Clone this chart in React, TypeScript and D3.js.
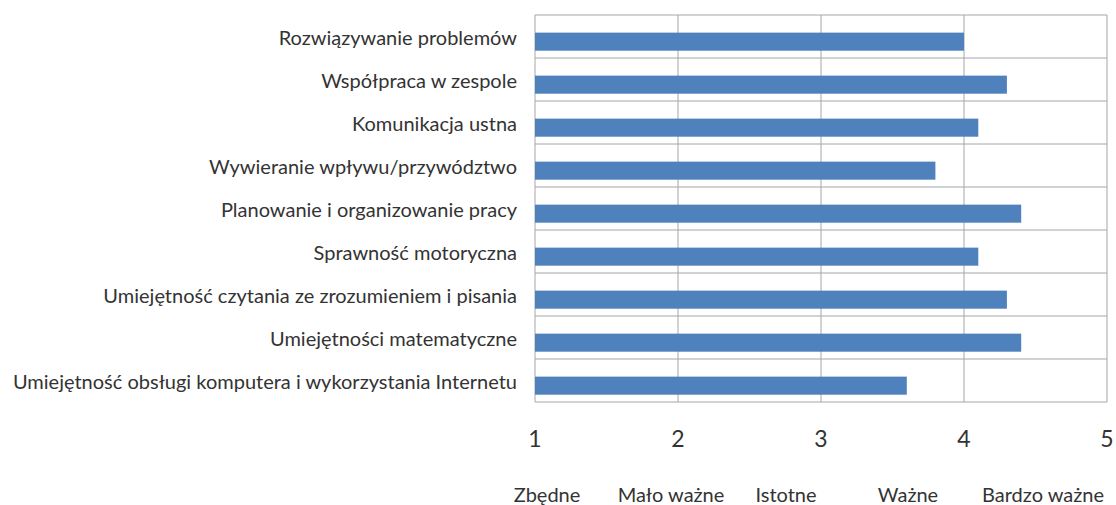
import React from "react";
import * as d3 from "d3";

const categories = [
  "Rozwiązywanie problemów",
  "Współpraca w zespole",
  "Komunikacja ustna",
  "Wywieranie wpływu/przywództwo",
  "Planowanie i organizowanie pracy",
  "Sprawność motoryczna",
  "Umiejętność czytania ze zrozumieniem i pisania",
  "Umiejętności matematyczne",
  "Umiejętność obsługi komputera i wykorzystania Internetu",
];
const values = [4.0, 4.3, 4.1, 3.8, 4.4, 4.1, 4.3, 4.4, 3.6];
const tickValues = [1, 2, 3, 4, 5];
const scaleLabels = ["Zbędne", "Mało ważne", "Istotne", "Ważne", "Bardzo ważne"];

const W = 1116;
const H = 505;
const plot = { left: 535, right: 1107, top: 15, bottom: 402 };
const scaleLabelX = [547, 671, 786, 908, 1043];
const FONT = "Lato, 'Liberation Sans', sans-serif";

export default function App() {
  const x = d3.scaleLinear().domain([1, 5]).range([plot.left, plot.right]);
  const y = d3.scaleBand<string>().domain(categories).range([plot.top, plot.bottom]);
  const bw = y.bandwidth();
  const bands = d3.range(categories.length + 1).map((i) => plot.top + i * bw);

  return (
    <svg width={W} height={H} style={{ position: "absolute", left: 0, top: 0, background: "#fff" }}>
      {bands.map((b, i) => (
        <line key={"h" + i} x1={plot.left} x2={plot.right} y1={b} y2={b} stroke="#a6a6a6" strokeWidth={1} />
      ))}
      {tickValues.map((t) => (
        <line key={"v" + t} x1={x(t)} x2={x(t)} y1={plot.top} y2={plot.bottom} stroke="#a6a6a6" strokeWidth={1} />
      ))}
      {categories.map((c, i) => (
        <rect
          key={c}
          x={x(1)}
          y={(y(c) as number) + bw * 0.41}
          width={x(values[i]) - x(1)}
          height={bw * 0.42}
          fill="#4f81bd"
        />
      ))}
      {categories.map((c) => (
        <text
          key={"l" + c}
          x={517}
          y={(y(c) as number) + bw / 2}
          textAnchor="end"
          dominantBaseline="central"
          fontFamily={FONT}
          fontSize={20}
          fill="#333333"
        >
          {c}
        </text>
      ))}
      {tickValues.map((t) => (
        <text key={"t" + t} x={x(t)} y={438} textAnchor="middle" dominantBaseline="central" fontFamily={FONT} fontSize={23} fill="#333333">
          {t}
        </text>
      ))}
      {scaleLabels.map((s, i) => (
        <text key={"s" + i} x={scaleLabelX[i]} y={494} textAnchor="middle" dominantBaseline="central" fontFamily={FONT} fontSize={20} fill="#333333">
          {s}
        </text>
      ))}
    </svg>
  );
}
